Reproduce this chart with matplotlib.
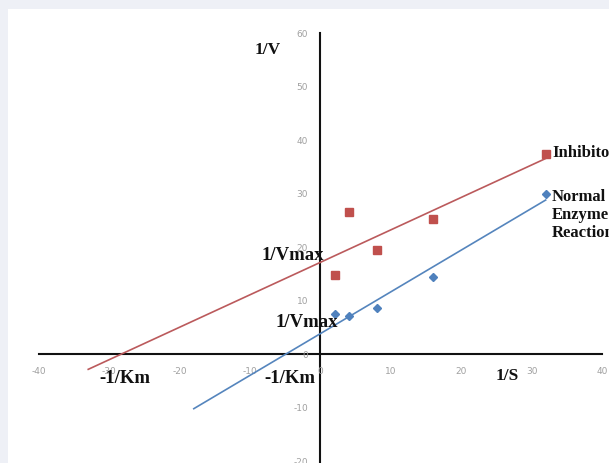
import numpy as np
import matplotlib
matplotlib.use("Agg")
import matplotlib.pyplot as plt

plt.rcParams["axes.unicode_minus"] = False

# Lineweaver-Burk data: reciprocal substrate concentration vs reciprocal velocity
inv_s = [2, 4, 8, 16, 32]
inv_v_inhibitor = [14.8, 26.6, 19.5, 25.2, 37.4]
inv_v_normal = [7.5, 7.1, 8.7, 14.4, 30.0]

# how far each linear trendline is extended backwards (in 1/S units)
backcast_inhibitor = 35
backcast_normal = 20

x_ticks = [-40, -30, -20, -10, 0, 10, 20, 30, 40]
y_ticks = [-20, -10, 0, 10, 20, 30, 40, 50, 60]

RED = "#c0504d"
BLUE = "#4f81bd"
RED_LINE = "#bb5a5c"
BLUE_LINE = "#5585bd"

W, H = 609, 463
fig = plt.figure(figsize=(W / 100, H / 100), dpi=100, facecolor="#eef0f6")
ax = fig.add_axes([8 / W, 0, (W - 8) / W, (H - 9) / H])
ax.set_facecolor("white")
ax.set_xlim(-44.4, 41.0)
ax.set_ylim(-20.3, 64.5)

# axes crossing at the origin
for side in ("top", "right"):
    ax.spines[side].set_visible(False)
ax.spines["left"].set_position(("data", 0))
ax.spines["bottom"].set_position(("data", 0))
ax.spines["left"].set_bounds(-20.3, 60)
ax.spines["bottom"].set_bounds(-40, 40)
for side in ("left", "bottom"):
    ax.spines[side].set_linewidth(1.5)
    ax.spines[side].set_color("#111111")
    ax.spines[side].set_zorder(1)

ax.set_xticks(x_ticks)
ax.set_yticks(y_ticks)
ax.tick_params(axis="x", length=0, pad=9, labelsize=6.5, labelcolor="#a0a0a0")
ax.tick_params(axis="y", length=0, pad=9, labelsize=6.5, labelcolor="#a0a0a0")

# linear trendlines
x = np.array(inv_s, dtype=float)
for yvals, back, col in ((inv_v_inhibitor, backcast_inhibitor, RED_LINE),
                         (inv_v_normal, backcast_normal, BLUE_LINE)):
    slope, intercept = np.polyfit(x, np.array(yvals), 1)
    xs = np.array([x.min() - back, x.max()])
    ax.plot(xs, slope * xs + intercept, color=col, lw=1.2, zorder=2)

ax.plot(inv_s, inv_v_inhibitor, ls="none", marker="s", ms=5.5, color=RED, zorder=3)
ax.plot(inv_s, inv_v_normal, ls="none", marker="D", ms=4.5, color=BLUE, zorder=3)

lab = dict(family="Liberation Serif", fontweight="bold", color="#111111", zorder=4)
ax.text(-7.5, 56.9, "1/V", ha="center", va="center", fontsize=12.5, **lab)
ax.text(-4.0, 18.4, "1/Vmax", ha="center", va="center", fontsize=13.5, **lab)
ax.text(-2.0, 5.9, "1/Vmax", ha="center", va="center", fontsize=13.5, **lab)
ax.text(-27.8, -4.6, "-1/Km", ha="center", va="center", fontsize=13.5, **lab)
ax.text(-4.4, -4.6, "-1/Km", ha="center", va="center", fontsize=13.5, **lab)
ax.text(26.6, -4.0, "1/S", ha="center", va="center", fontsize=12.5, **lab)
ax.text(32.9, 37.6, "Inhibitor", ha="left", va="center", fontsize=12, **lab)
ax.text(32.9, 30.8, "Normal\nEnzyme\nReaction", ha="left", va="top", linespacing=1.15,
        fontsize=12, **lab)

fig.savefig("out.png", dpi=100, facecolor=fig.get_facecolor())
